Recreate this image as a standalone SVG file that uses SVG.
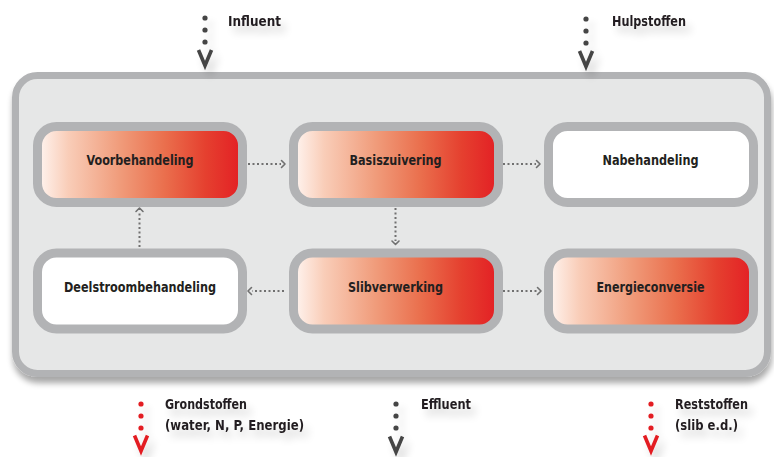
<svg xmlns="http://www.w3.org/2000/svg" width="774" height="457" viewBox="0 0 774 457">
  <defs>
    <linearGradient id="redGrad" x1="0" y1="0" x2="1" y2="0">
      <stop offset="0" stop-color="#fff6f2"/>
      <stop offset="0.15" stop-color="#f9cdb8"/>
      <stop offset="0.4" stop-color="#f09c7b"/>
      <stop offset="0.62" stop-color="#ea6f4d"/>
      <stop offset="0.82" stop-color="#e5402f"/>
      <stop offset="1" stop-color="#e31e24"/>
    </linearGradient>
    <filter id="boxShadow" x="-5%" y="-5%" width="110%" height="115%">
      <feGaussianBlur in="SourceAlpha" stdDeviation="3"/>
      <feOffset dx="1" dy="6" result="b"/>
      <feComponentTransfer><feFuncA type="linear" slope="0.35"/></feComponentTransfer>
      <feMerge><feMergeNode/><feMergeNode in="SourceGraphic"/></feMerge>
    </filter>
    <filter id="softShadow" x="-30%" y="-60%" width="170%" height="260%">
      <feGaussianBlur in="SourceAlpha" stdDeviation="4"/>
      <feOffset dx="5" dy="7" result="b"/>
      <feComponentTransfer><feFuncA type="linear" slope="0.18"/></feComponentTransfer>
      <feMerge><feMergeNode/><feMergeNode in="SourceGraphic"/></feMerge>
    </filter>
  </defs>
  <style>
    .lbl { font-family: "DejaVu Sans Condensed", "DejaVu Sans", sans-serif; font-stretch: condensed; font-weight: bold; font-size: 14px; fill: #231f20; }
    .node-lbl { text-anchor: middle; }
    .box { stroke: #b2b3b5; stroke-width: 9; }
    .red { fill: url(#redGrad); }
    .white { fill: #ffffff; }
    .conn { stroke: #707070; stroke-width: 2; stroke-dasharray: 2 2.5; fill: none; }
    .head { stroke: #707070; stroke-width: 1.6; fill: none; stroke-linecap: round; stroke-linejoin: round; }
    .vg { stroke: #454545; stroke-width: 3.6; fill: none; stroke-linejoin: miter; }
    .vr { stroke: #e31e24; stroke-width: 3.6; fill: none; stroke-linejoin: miter; }
    .dg { fill: #454545; }
    .dr { fill: #e31e24; }
  </style>

  <rect width="774" height="457" fill="#ffffff"/>

  <g id="container" filter="url(#boxShadow)">
    <rect x="15.5" y="75.5" width="752" height="298" rx="22" fill="#e6e7e7" stroke="#b2b3b5" stroke-width="7"/>
  </g>

  <g id="node-voorbehandeling">
    <rect class="box red" x="37.5" y="126.5" width="205" height="76" rx="19"/>
    <text class="lbl node-lbl" x="140" y="165" textLength="107" lengthAdjust="spacingAndGlyphs">Voorbehandeling</text>
  </g>
  <g id="node-basiszuivering">
    <rect class="box red" x="293.5" y="126.5" width="205" height="76" rx="19"/>
    <text class="lbl node-lbl" x="395.5" y="165" textLength="92" lengthAdjust="spacingAndGlyphs">Basiszuivering</text>
  </g>
  <g id="node-nabehandeling">
    <rect class="box white" x="548.5" y="126.5" width="205" height="76" rx="19"/>
    <text class="lbl node-lbl" x="650.5" y="165" textLength="96" lengthAdjust="spacingAndGlyphs">Nabehandeling</text>
  </g>
  <g id="node-deelstroombehandeling">
    <rect class="box white" x="37.5" y="253" width="205" height="76" rx="19"/>
    <text class="lbl node-lbl" x="140" y="292" textLength="152" lengthAdjust="spacingAndGlyphs">Deelstroombehandeling</text>
  </g>
  <g id="node-slibverwerking">
    <rect class="box red" x="293.5" y="253" width="205" height="76" rx="19"/>
    <text class="lbl node-lbl" x="395.5" y="292" textLength="95" lengthAdjust="spacingAndGlyphs">Slibverwerking</text>
  </g>
  <g id="node-energieconversie">
    <rect class="box red" x="548.5" y="253" width="205" height="76" rx="19"/>
    <text class="lbl node-lbl" x="650.5" y="292" textLength="108" lengthAdjust="spacingAndGlyphs">Energieconversie</text>
  </g>

  <g id="connectors">
    <line class="conn" x1="248" y1="164" x2="281" y2="164"/>
    <path class="head" d="M281.5 160.5 L285 164 L281.5 167.5"/>
    <line class="conn" x1="503" y1="164" x2="536" y2="164"/>
    <path class="head" d="M536.5 160.5 L540 164 L536.5 167.5"/>
    <line class="conn" x1="395.5" y1="208" x2="395.5" y2="241"/>
    <path class="head" d="M392 241 L395.5 244.5 L399 241"/>
    <line class="conn" x1="284" y1="291" x2="252" y2="291"/>
    <path class="head" d="M251.5 287.5 L248 291 L251.5 294.5"/>
    <line class="conn" x1="503" y1="291" x2="537" y2="291"/>
    <path class="head" d="M537.5 287.5 L541 291 L537.5 294.5"/>
    <line class="conn" x1="139.5" y1="247" x2="139.5" y2="212"/>
    <path class="head" d="M136 211.5 L139.5 208 L143 211.5"/>
  </g>

  <g id="influent" filter="url(#softShadow)">
    <circle class="dg" cx="205" cy="18" r="2.6"/>
    <circle class="dg" cx="205" cy="30" r="2.6"/>
    <circle class="dg" cx="205" cy="42" r="2.6"/>
    <path class="vg" d="M198.5 50 L205 65.5 L211.5 50"/>
    <text class="lbl" x="228" y="26" textLength="53" lengthAdjust="spacingAndGlyphs">Influent</text>
  </g>
  <g id="hulpstoffen" filter="url(#softShadow)">
    <circle class="dg" cx="586" cy="19" r="2.6"/>
    <circle class="dg" cx="586" cy="31" r="2.6"/>
    <circle class="dg" cx="586" cy="43" r="2.6"/>
    <path class="vg" d="M579.5 51 L586 66.5 L592.5 51"/>
    <text class="lbl" x="612" y="26" textLength="74" lengthAdjust="spacingAndGlyphs">Hulpstoffen</text>
  </g>
  <g id="grondstoffen" filter="url(#softShadow)">
    <circle class="dr" cx="141" cy="404" r="2.6"/>
    <circle class="dr" cx="141" cy="416" r="2.6"/>
    <circle class="dr" cx="141" cy="428" r="2.6"/>
    <path class="vr" d="M134.5 435.5 L141 451 L147.5 435.5"/>
    <text class="lbl" x="165" y="409" textLength="82" lengthAdjust="spacingAndGlyphs">Grondstoffen</text>
    <text class="lbl" x="165" y="430" textLength="139" lengthAdjust="spacingAndGlyphs">(water, N, P, Energie)</text>
  </g>
  <g id="effluent" filter="url(#softShadow)">
    <circle class="dg" cx="396" cy="404" r="2.6"/>
    <circle class="dg" cx="396" cy="416" r="2.6"/>
    <circle class="dg" cx="396" cy="428" r="2.6"/>
    <path class="vg" d="M389.5 436.5 L396 452 L402.5 436.5"/>
    <text class="lbl" x="421" y="409" textLength="50" lengthAdjust="spacingAndGlyphs">Effluent</text>
  </g>
  <g id="reststoffen" filter="url(#softShadow)">
    <circle class="dr" cx="651" cy="404" r="2.6"/>
    <circle class="dr" cx="651" cy="416" r="2.6"/>
    <circle class="dr" cx="651" cy="428" r="2.6"/>
    <path class="vr" d="M644.5 435.5 L651 451 L657.5 435.5"/>
    <text class="lbl" x="675" y="409" textLength="73" lengthAdjust="spacingAndGlyphs">Reststoffen</text>
    <text class="lbl" x="675" y="430" textLength="63" lengthAdjust="spacingAndGlyphs">(slib e.d.)</text>
  </g>
</svg>
